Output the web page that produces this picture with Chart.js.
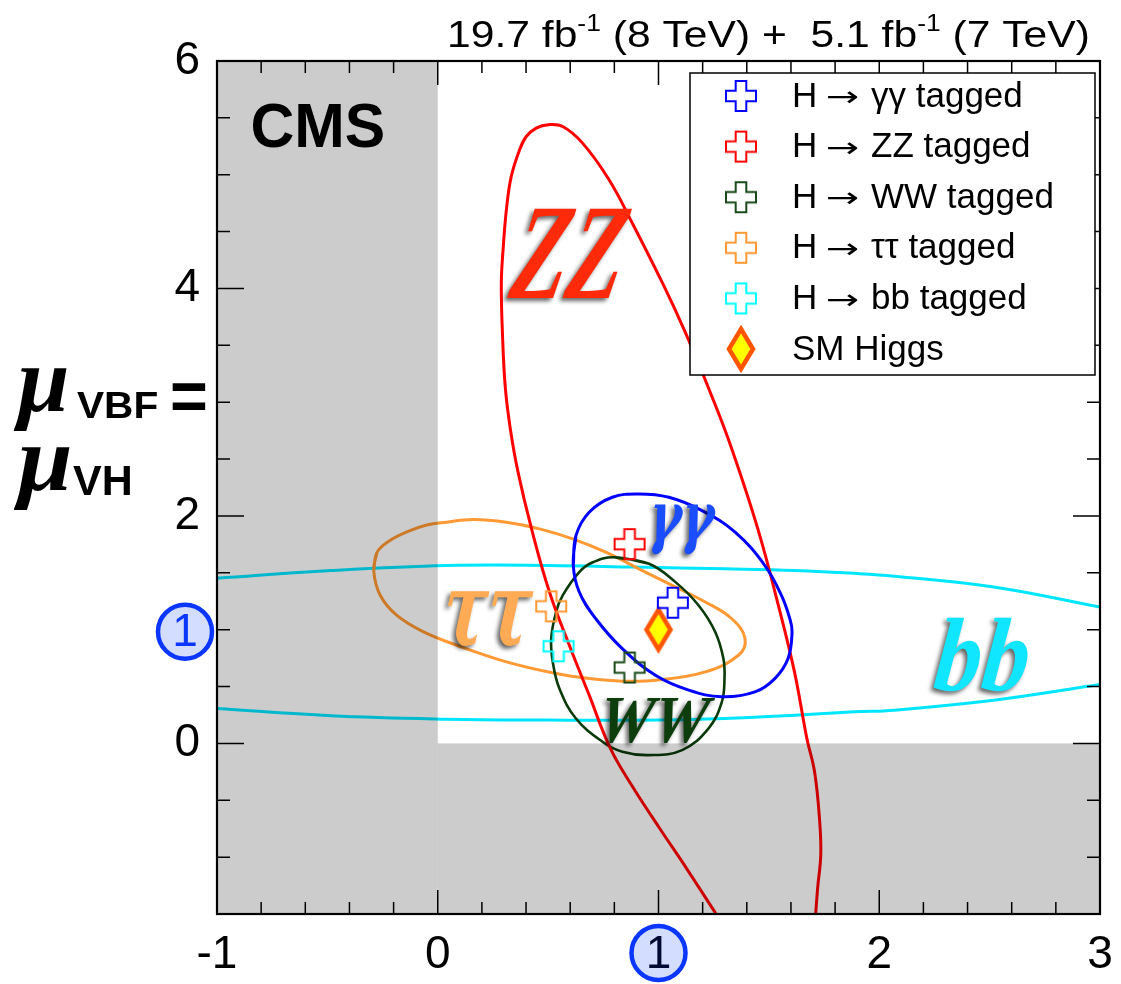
<!DOCTYPE html>
<html>
<head>
<meta charset="utf-8">
<title>mu_VBF,VH per decay tag</title>
<script src="https://cdn.jsdelivr.net/npm/chart.js@4.4.1/dist/chart.umd.min.js"></script>
<style>
  html, body { margin: 0; padding: 0; background: #fff; }
  #chart { display: block; }
</style>
</head>
<body>
<canvas id="chart" width="1121" height="984"></canvas>
<script>
// best fit points per decay tag
const tagLabels = ['H \u2192 \u03b3\u03b3 tagged', 'H \u2192 ZZ tagged', 'H \u2192 WW tagged', 'H \u2192 \u03c4\u03c4 tagged', 'H \u2192 bb tagged'];
const markerColors = ['#0000ff', '#ff0000', '#1a4a1a', '#ff9933', '#00ffff'];
const bestFitX = [1.065, 0.869, 0.869, 0.514, 0.547];
const bestFitY = [1.237, 1.752, 0.667, 1.205, 0.854];
const smLabel = 'SM Higgs';
const smX = [1];
const smY = [1];

// 68% CL contours
const ggX = [0.614, 0.626, 0.686, 0.791, 0.911, 1.047, 1.197, 1.347, 1.482, 1.557, 1.595, 1.605, 1.587, 1.527, 1.437, 1.287, 1.137, 0.986, 0.836, 0.716, 0.641];
const ggY = [1.564, 1.827, 2.032, 2.164, 2.193, 2.164, 2.047, 1.857, 1.564, 1.301, 1.096, 0.980, 0.746, 0.570, 0.453, 0.410, 0.468, 0.599, 0.833, 1.096, 1.331];

const zzX = [1.261, 1.126, 1.005, 0.887, 0.782, 0.686, 0.596, 0.506, 0.425, 0.364, 0.329, 0.306, 0.293, 0.288, 0.296, 0.311, 0.333, 0.371, 0.401, 0.446, 0.501, 0.566, 0.656, 0.776, 0.881, 1.025, 1.122, 1.241, 1.327, 1.450, 1.543, 1.616, 1.672, 1.707, 1.730, 1.735, 1.721, 1.712];
const zzY = [-1.5, -1.096, -0.746, -0.395, -0.044, 0.424, 0.863, 1.331, 1.886, 2.383, 2.763, 3.13, 3.611, 4.05, 4.342, 4.693, 4.985, 5.22, 5.336, 5.41, 5.44, 5.424, 5.278, 4.956, 4.576, 4.02, 3.611, 3.055, 2.617, 1.886, 1.213, 0.629, 0.044, -0.25, -0.68, -0.98, -1.27, -1.5];

const wwX = [0.799, 0.957, 1.077, 1.182, 1.257, 1.294, 1.299, 1.287, 1.227, 1.107, 0.957, 0.836, 0.746, 0.626, 0.551, 0.521, 0.514, 0.536, 0.566, 0.641, 0.700];
const wwY = [1.637, 1.579, 1.418, 1.213, 0.980, 0.746, 0.570, 0.366, 0.132, -0.059, -0.103, -0.073, 0.015, 0.219, 0.482, 0.716, 0.921, 1.155, 1.301, 1.506, 1.590];

const tauX = [-0.290, -0.275, -0.220, -0.140, -0.050, 0.040, 0.161, 0.311, 0.461, 0.611, 0.761, 0.911, 1.062, 1.212, 1.332, 1.392, 1.362, 1.212, 0.986, 0.836, 0.686, 0.536, 0.311, 0.086, -0.064, -0.185, -0.260];
const tauY = [1.520, 1.680, 1.780, 1.860, 1.920, 1.945, 1.968, 1.944, 1.886, 1.798, 1.681, 1.535, 1.389, 1.243, 1.096, 0.921, 0.775, 0.629, 0.555, 0.547, 0.570, 0.614, 0.717, 0.863, 0.980, 1.125, 1.300];

// bb contour only crosses the frame, so two open arcs
const bbTopX = [-1.0, -0.485, 0.041, 0.5, 0.896, 1.3, 1.617, 1.887, 2.068, 2.518, 3.0];
const bbTopY = [1.453, 1.52, 1.564, 1.565, 1.55, 1.535, 1.52, 1.495, 1.47, 1.375, 1.199];
const bbBotX = [-1.0, -0.485, 0.041, 0.5, 0.896, 1.3, 1.617, 1.887, 2.068, 2.518, 3.0];
const bbBotY = [0.307, 0.243, 0.213, 0.205, 0.204, 0.22, 0.248, 0.278, 0.292, 0.38, 0.518];

const xTickLabels = [-1, 0, 2, 3];
const yTickLabels = [0, 2, 4, 6];

const SANS = "'Liberation Sans', Arial, Helvetica, sans-serif";
const SERIF = "'Liberation Serif', 'Times New Roman', serif";
const GREEK = "'DejaVu Serif', serif";

function pts(xs, ys) { return xs.map((x, i) => ({ x: x, y: ys[i] })); }
function closed(xs, ys) { const p = pts(xs, ys); return p.concat([p[0], p[1]]); }

function plusIcon(color) {
    const c = document.createElement('canvas');
    c.width = c.height = 36;
    const g = c.getContext('2d');
    const m = 18, L = 15, a = 5.3;
    g.beginPath();
    [[-a,-L],[a,-L],[a,-a],[L,-a],[L,a],[a,a],[a,L],[-a,L],[-a,a],[-L,a],[-L,-a],[-a,-a]]
        .forEach((p, i) => i ? g.lineTo(m + p[0], m + p[1]) : g.moveTo(m + p[0], m + p[1]));
    g.closePath();
    g.lineWidth = 2;
    g.strokeStyle = color;
    g.stroke();
    return c;
}

function diamondIcon() {
    const c = document.createElement('canvas');
    c.width = 34; c.height = 50;
    const g = c.getContext('2d');
    g.beginPath();
    g.moveTo(17, 5); g.lineTo(29, 25); g.lineTo(17, 45); g.lineTo(5, 25);
    g.closePath();
    g.fillStyle = '#ffff00';
    g.fill();
    g.lineWidth = 4.5;
    g.strokeStyle = '#ff5500';
    g.stroke();
    return c;
}

const plusIcons = markerColors.map(plusIcon);
const smIcon = diamondIcon();

function contour(label, data, color, width) {
    return { label: label, data: data, showLine: true, borderColor: color, borderWidth: width || 3,
             pointRadius: 0, tension: 0.4, fill: false, order: 2 };
}

const datasets = [
    contour('gg', closed(ggX, ggY), '#0000ff'),
    contour('zz', pts(zzX, zzY), '#ff0000'),
    contour('ww', closed(wwX, wwY), '#0b3a0b', 2.6),
    contour('tautau', closed(tauX, tauY), '#ff9933'),
    contour('bb top', pts(bbTopX, bbTopY), '#00e6ff'),
    contour('bb bottom', pts(bbBotX, bbBotY), '#00e6ff')
];
tagLabels.forEach((lab, i) => {
    datasets.push({ label: lab, data: [{ x: bestFitX[i], y: bestFitY[i] }], pointStyle: plusIcons[i],
                    pointRadius: 16, order: 0, legendIcon: plusIcons[i] });
});
datasets.push({ label: smLabel, data: pts(smX, smY), pointStyle: smIcon, pointRadius: 20, order: 0, legendIcon: smIcon });

// fancy channel names, centre in data units, ink box in px
const channelNames = [
    { text: 'ZZ', font: SERIF, x: 0.595, y: 4.30, w: 110, h: 90, color: '#ff2a0a', skew: 0.18 },
    { text: '\u03b3\u03b3', font: GREEK, x: 1.113, y: 1.886, w: 63, h: 50, color: '#1a4dff', skew: 0.1 },
    { text: '\u03c4\u03c4', font: GREEK, x: 0.230, y: 1.088, w: 85, h: 58, color: '#ffaa55', skew: 0.1 },
    { text: 'WW', font: SERIF, x: 0.995, y: 0.202, w: 109, h: 45, color: '#0d3d0d', skew: 0.15 },
    { text: 'bb', font: SERIF, x: 2.468, y: 0.781, w: 92, h: 73, color: '#10e6ff', skew: 0.1 }
];

function fitText(ctx, text, font, cx, cy, w, h, color, shadow, skew) {
    ctx.save();
    ctx.font = font;
    ctx.textAlign = 'left';
    ctx.textBaseline = 'alphabetic';
    const m = ctx.measureText(text);
    const tw = m.actualBoundingBoxLeft + m.actualBoundingBoxRight;
    const th = m.actualBoundingBoxAscent + m.actualBoundingBoxDescent;
    ctx.translate(cx, cy);
    if (skew) ctx.transform(1, 0, -skew, 1, 0, 0);
    ctx.scale(w / tw, h / th);
    if (shadow) {
        ctx.shadowColor = 'rgba(0,0,0,0.6)';
        ctx.shadowBlur = 4;
        ctx.shadowOffsetX = -3;
        ctx.shadowOffsetY = 3;
    }
    ctx.fillStyle = color;
    ctx.fillText(text, -tw / 2 + m.actualBoundingBoxLeft, -th / 2 + m.actualBoundingBoxAscent);
    ctx.restore();
}

function circledOne(ctx, cx, cy, textColor) {
    ctx.save();
    ctx.beginPath();
    ctx.arc(cx, cy, 27, 0, Math.PI * 2);
    ctx.fillStyle = '#d3ddff';
    ctx.fill();
    ctx.lineWidth = 4.5;
    ctx.strokeStyle = '#0a36ff';
    ctx.stroke();
    ctx.fillStyle = textColor;
    ctx.font = '46px ' + SANS;
    ctx.textAlign = 'center';
    ctx.textBaseline = 'middle';
    ctx.fillText('1', cx, cy + 2);
    ctx.restore();
}

const decorations = {
    id: 'decorations',
    afterDatasetsDraw(chart) {
        const ctx = chart.ctx;
        const xs = chart.scales.x, ys = chart.scales.y;
        const a = chart.chartArea;
        const x0 = xs.getPixelForValue(0), y0 = ys.getPixelForValue(0);

        // unphysical region shaded on top of the contours
        ctx.save();
        ctx.fillStyle = 'rgba(0,0,0,0.2)';
        ctx.fillRect(a.left, a.top, x0 - a.left, a.bottom - a.top);
        ctx.fillRect(x0, y0, a.right - x0, a.bottom - y0);
        ctx.restore();

        // inward ticks on all four sides
        ctx.save();
        ctx.strokeStyle = '#000';
        ctx.lineWidth = 1.5;
        ctx.beginPath();
        xs.ticks.forEach(t => {
            const px = xs.getPixelForValue(t.value);
            if (px <= a.left + 1 || px >= a.right - 1) return;
            const major = Math.abs(t.value - Math.round(t.value)) < 1e-6;
            const len = major ? 24 : 12;
            ctx.moveTo(px, a.bottom); ctx.lineTo(px, a.bottom - len);
            ctx.moveTo(px, a.top); ctx.lineTo(px, a.top + len);
        });
        ys.ticks.forEach(t => {
            const py = ys.getPixelForValue(t.value);
            if (py <= a.top + 1 || py >= a.bottom - 1) return;
            const major = Math.abs(t.value / 2 - Math.round(t.value / 2)) < 1e-6;
            const len = major ? 27 : 13;
            ctx.moveTo(a.left, py); ctx.lineTo(a.left + len, py);
            ctx.moveTo(a.right, py); ctx.lineTo(a.right - len, py);
        });
        ctx.stroke();
        ctx.lineWidth = 2.2;
        ctx.strokeRect(a.left, a.top, a.right - a.left, a.bottom - a.top);
        ctx.restore();

        // channel names
        channelNames.forEach(n => {
            fitText(ctx, n.text, 'bold italic 100px ' + n.font,
                    xs.getPixelForValue(n.x), ys.getPixelForValue(n.y), n.w, n.h, n.color, true, n.skew);
        });

        // legend box
        ctx.save();
        ctx.fillStyle = '#fff';
        ctx.fillRect(690, 73, 405, 302);
        ctx.strokeStyle = '#000';
        ctx.lineWidth = 1.5;
        ctx.strokeRect(690, 73, 405, 302);
        ctx.font = '35px ' + SANS;
        ctx.textBaseline = 'middle';
        ctx.fillStyle = '#000';
        const items = chart.data.datasets.filter(d => d.legendIcon);
        items.forEach((d, i) => {
            const cy = 96 + 50.6 * i;
            const ic = d.legendIcon;
            ctx.drawImage(ic, 741 - ic.width / 2, cy - ic.height / 2);
            const bits = d.label.split(' \u2192 ');
            if (bits.length === 2) {
                ctx.fillText(bits[0], 792, cy + 1);
                fitText(ctx, '\u2192', "32px 'DejaVu Sans'", 842.5, cy + 1, 31, 13, '#000', false, 0);
                ctx.fillText(bits[1], 871, cy + 1);
            } else {
                ctx.fillText(d.label, 792, cy + 1);
            }
        });
        ctx.restore();

        // CMS label
        fitText(ctx, 'CMS', 'bold 100px ' + SANS, 318, 125.5, 130, 45, '#000', false, 0);
    },
    afterDraw(chart) {
        const ctx = chart.ctx;
        const xs = chart.scales.x, ys = chart.scales.y;

        // x tick labels (drawn here so the last one may hang past the frame)
        ctx.save();
        ctx.font = '46px ' + SANS;
        ctx.fillStyle = '#000';
        ctx.textAlign = 'center';
        ctx.textBaseline = 'middle';
        xs.ticks.forEach(t => {
            const r = Math.round(t.value);
            if (Math.abs(t.value - r) < 1e-6 && xTickLabels.includes(r)) {
                ctx.fillText(String(r), xs.getPixelForValue(t.value), 955);
            }
        });
        ctx.restore();

        // y axis title: mu_VBF = mu_VH
        fitText(ctx, '\u03bc', 'bold italic 100px ' + SERIF, 40, 399, 54, 62, '#000', false, 0);
        fitText(ctx, 'VBF', 'bold 100px ' + SANS, 117, 405, 80, 26, '#000', false, 0);
        fitText(ctx, '=', 'bold 100px ' + SANS, 189, 396.5, 33, 27, '#000', false, 0);
        fitText(ctx, '\u03bc', 'bold italic 100px ' + SERIF, 41.5, 478.5, 57, 63, '#000', false, 0);
        fitText(ctx, 'VH', 'bold 100px ' + SANS, 101.5, 480, 57, 30, '#000', false, 0);

        circledOne(ctx, 185, ys.getPixelForValue(1) + 2, '#0a36ff');
        circledOne(ctx, xs.getPixelForValue(1), 953, '#000a33');

        // luminosity line, slightly condensed vertically like the original
        const parts = [['19.7 fb', 0], ['-1', 1], [' (8 TeV) +  5.1 fb', 0], ['-1', 1], [' (7 TeV)', 0]];
        ctx.save();
        const base = 100;
        let total = 0;
        parts.forEach(p => { ctx.font = (p[1] ? base * 0.62 : base) + 'px ' + SANS; total += ctx.measureText(p[0]).width; });
        const f = base * 643 / total;
        let x = 1090 - 643;
        ctx.translate(0, 47);
        ctx.scale(1, 0.88);
        ctx.fillStyle = '#000';
        ctx.textBaseline = 'alphabetic';
        parts.forEach(p => {
            const size = p[1] ? f * 0.62 : f;
            ctx.font = size + 'px ' + SANS;
            ctx.fillText(p[0], x, p[1] ? -f * 0.42 : 0);
            x += ctx.measureText(p[0]).width;
        });
        ctx.restore();
    }
};

new Chart(document.getElementById('chart'), {
    type: 'scatter',
    data: { datasets: datasets },
    options: {
        responsive: false,
        animation: false,
        events: [],
        layout: { padding: { top: 61, right: 15, left: 0, bottom: 0 } },
        plugins: { legend: { display: false }, tooltip: { enabled: false } },
        scales: {
            x: {
                type: 'linear', min: -1, max: 3,
                afterFit: s => { s.height = 70; s.paddingLeft = 0; s.paddingRight = 0; },
                grid: { display: false, drawTicks: false },
                border: { display: false },
                ticks: { stepSize: 0.2, autoSkip: false, maxRotation: 0, display: false }
            },
            y: {
                type: 'linear', min: -1.5, max: 6,
                afterFit: s => { s.width = 217; s.paddingTop = 0; s.paddingBottom = 0; },
                grid: { display: false, drawTicks: false },
                border: { display: false },
                ticks: {
                    stepSize: 0.5, autoSkip: false, padding: 17,
                    color: '#000', font: { family: SANS, size: 46 },
                    callback: v => {
                        const r = Math.round(v);
                        return (Math.abs(v - r) < 1e-6 && yTickLabels.includes(r)) ? String(r) : '';
                    }
                }
            }
        }
    },
    plugins: [decorations]
});
</script>
</body>
</html>
